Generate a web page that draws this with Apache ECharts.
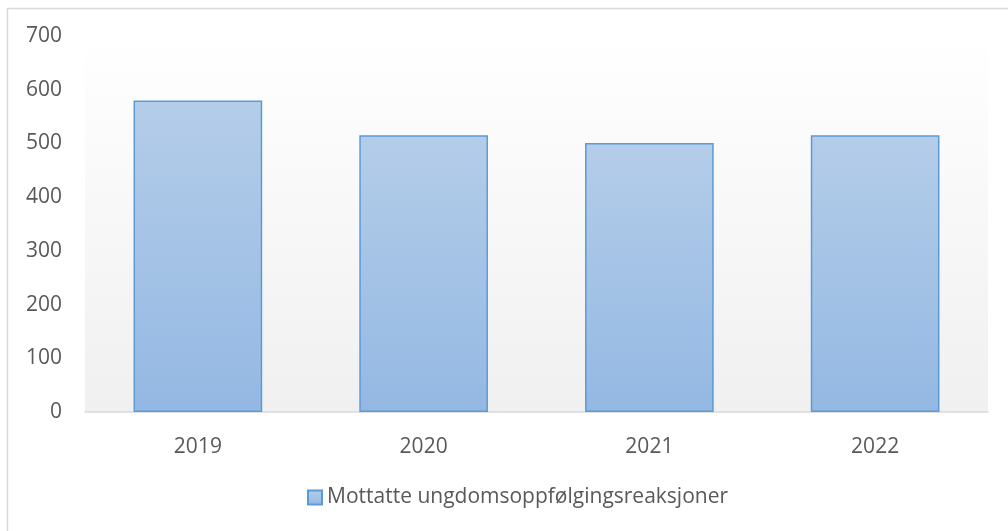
<!DOCTYPE html>
<html>
<head>
<meta charset="utf-8">
<script src="https://cdn.jsdelivr.net/npm/echarts@6/dist/echarts.min.js"></script>
<style>
  html, body { margin: 0; padding: 0; background: #fff; }
  #chart { width: 1008px; height: 531px; }
</style>
</head>
<body>
<div id="chart"></div>
<script>
const years = ['2019', '2020', '2021', '2022'];
const mottatte = [580, 515, 501, 515];
const yTicks = [0, 700, 100];
const seriesName = 'Mottatte ungdomsoppfølgingsreaksjoner';

const font = '"Open Sans", "Liberation Sans", sans-serif';
const textGrey = '#595959';

const barFill = new echarts.graphic.LinearGradient(0, 0, 0, 1, [
	{ offset: 0, color: '#b4cde9' },
	{ offset: 1, color: '#94b8e3' },
]);

let myChart = echarts.init(document.getElementById('chart'), null, { renderer: 'canvas' });

let option = {
	animation: false,
	backgroundColor: '#fff',
	graphic: [
		{
			type: 'rect',
			shape: { x: 7.5, y: 8.5, width: 1020, height: 540 },
			style: { fill: 'none', stroke: '#d9d9d9', lineWidth: 1.5 },
			silent: true,
			z: -1,
		},
	],
	grid: {
		left: 85,
		right: 20,
		top: 36,
		bottom: 119,
		show: true,
		borderWidth: 0,
		backgroundColor: new echarts.graphic.LinearGradient(0, 0, 0, 1, [
			{ offset: 0, color: '#ffffff' },
			{ offset: 0.12, color: '#fdfdfd' },
			{ offset: 1, color: '#f0f0f0' },
		]),
	},
	legend: {
		bottom: 18,
		left: 302,
		itemWidth: 14,
		itemHeight: 14,
		itemGap: 6,
		icon: 'rect',
		textStyle: { fontFamily: font, fontSize: 21, color: textGrey },
		data: [seriesName],
	},
	xAxis: {
		type: 'category',
		data: years,
		axisLine: { lineStyle: { color: '#d9d9d9', width: 1.5 } },
		axisTick: { show: false },
		axisLabel: { fontFamily: font, fontSize: 21, color: textGrey, margin: 25 },
	},
	yAxis: {
		type: 'value',
		min: yTicks[0],
		max: yTicks[1],
		interval: yTicks[2],
		splitLine: { show: false },
		axisLine: { show: false },
		axisTick: { show: false },
		axisLabel: { fontFamily: font, fontSize: 21, color: textGrey, margin: 23, padding: [4, 0, 0, 0] },
	},
	series: [
		{
			name: seriesName,
			type: 'bar',
			data: mottatte,
			barWidth: '57%',
			itemStyle: {
				color: barFill,
				borderColor: '#5b9bd5',
				borderWidth: 1.5,
			},
		},
	],
};

myChart.setOption(option);
window.addEventListener('resize', () => {
	myChart.resize();
});
</script>
</body>
</html>
